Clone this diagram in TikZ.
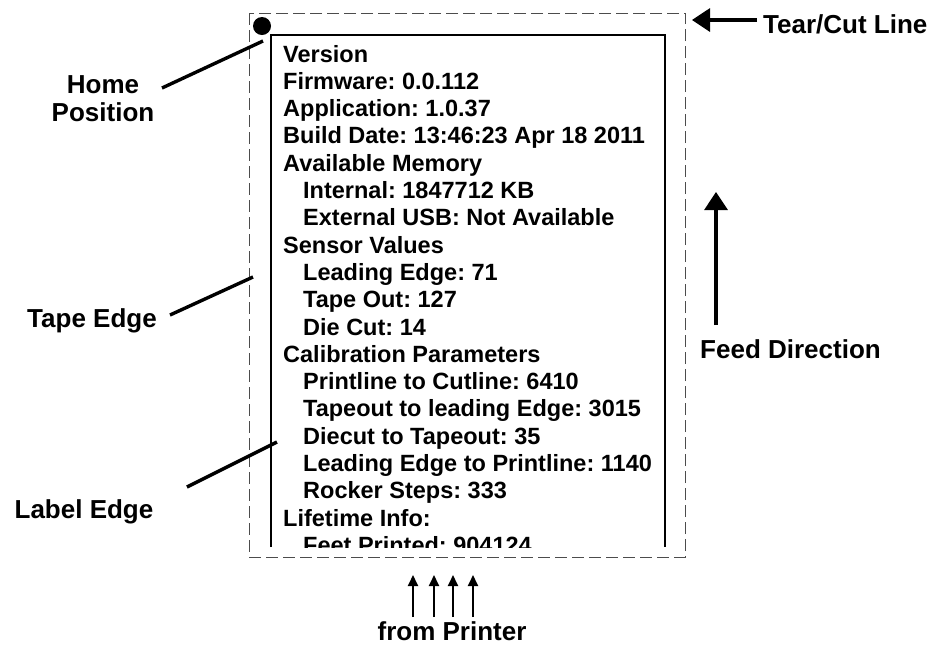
\documentclass[tikz,border=0pt]{standalone}
\usepackage{fontspec}
\setmainfont{Liberation Sans}
\usetikzlibrary{arrows.meta}
\frenchspacing
\begin{document}
\begin{tikzpicture}[x=1pt,y=-1pt,
  bodytext/.style={anchor=base west,inner sep=0pt,font=\fontsize{23.5}{27}\selectfont\bfseries},
  lbl/.style={inner sep=0pt,font=\fontsize{26}{28}\selectfont\bfseries,align=center},
  leader/.style={line width=3.4pt},
  bigarrow/.style={line width=3.2pt,-{Triangle[length=18pt,width=23pt]}},
  smallarrow/.style={line width=2pt,-{Triangle[length=11pt,width=10pt]}},
  tapeline/.style={line width=1pt,draw=black!70,dash pattern=on 12pt off 5pt},
  labelline/.style={line width=2.8pt}]
\useasboundingbox (0,0) rectangle (934,649);
% tape (dashed) and label box
\draw[tapeline] (249,13) rectangle (685,557);
\draw[labelline] (271,547) -- (271,35) -- (665,35) -- (665,547);
\fill (262,26) circle (9);
% printed text
\begin{scope}
\clip (272,36) rectangle (664,547);
\foreach \t/\ind [count=\i from 0] in {
  Version/0,
  Firmware: 0.0.112/0,
  Application: 1.0.37/0,
  Build Date: 13:46:23 Apr 18 2011/0,
  Available Memory/0,
  Internal: 1847712 KB/1,
  External USB: Not Available/1,
  Sensor Values/0,
  Leading Edge: 71/1,
  Tape Out: 127/1,
  Die Cut: 14/1,
  Calibration Parameters/0,
  Printline to Cutline: 6410/1,
  Tapeout to leading Edge: 3015/1,
  Diecut to Tapeout: 35/1,
  Leading Edge to Printline: 1140/1,
  Rocker Steps: 333/1,
  Lifetime Info:/0,
  Feet Printed: 904124/1}
  \node[bodytext] (line\i) at ({283+20*\ind},{62+27.3*\i}) {\t};
\end{scope}
% labels
\node[lbl] (home) at (103,98.7) {Home\\Position};
\node[lbl,anchor=base] (tape) at (92,327) {Tape Edge};
\node[lbl,anchor=base] (label) at (84,518) {Label Edge};
\node[lbl,anchor=base west] (tear) at (763,33) {Tear/Cut Line};
\node[lbl,anchor=base west] (feed) at (700,358) {Feed Direction};
\node[lbl,anchor=base] (printer) at (452,640) {from Printer};
% leaders
\coordinate (homeA) at (162,88);
\coordinate (homeB) at (263,41);
\coordinate (tapeA) at (170,315);
\coordinate (tapeB) at (253,277);
\coordinate (labelA) at (187,487);
\coordinate (labelB) at (277,442);
\draw[leader] (homeA) -- (homeB);
\draw[leader] (tapeA) -- (tapeB);
\draw[leader] (labelA) -- (labelB);
% arrows
\coordinate (tearS) at (757,20);
\coordinate (tearT) at (692,20);
\draw[bigarrow] (tearS) -- (tearT);
\coordinate (feedS) at (716,325);
\coordinate (feedT) at (716,192);
\draw[bigarrow] (feedS) -- (feedT);
\foreach \x [count=\k] in {413,434,453,473}{
  \coordinate (pS\k) at (\x,617);
  \coordinate (pT\k) at (\x,575);
  \draw[smallarrow] (pS\k) -- (pT\k);
}
\end{tikzpicture}
\end{document}
